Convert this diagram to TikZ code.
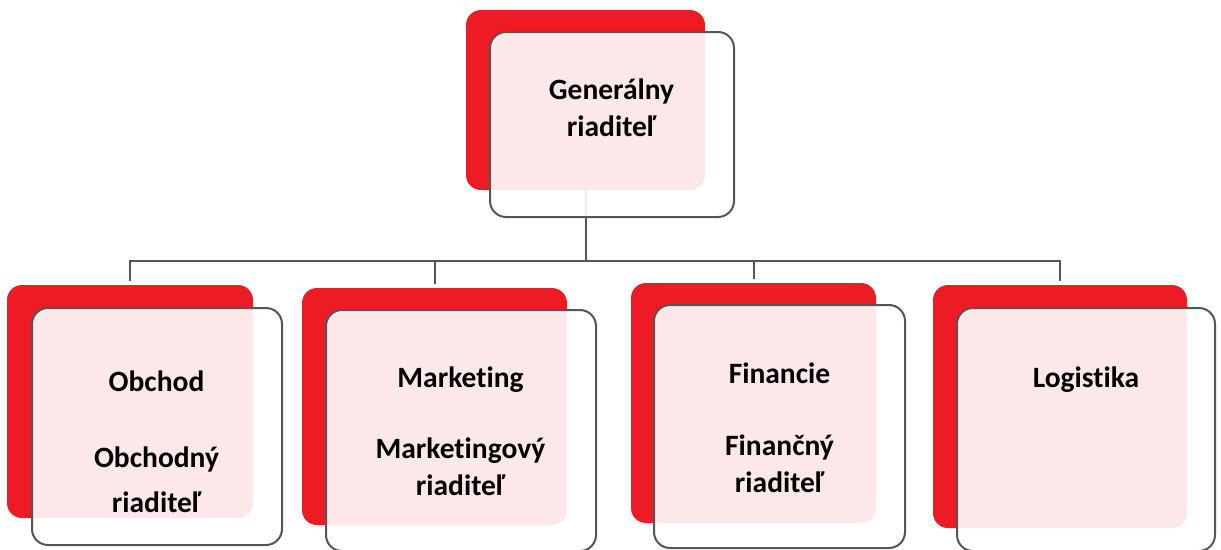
\documentclass[tikz,border=0pt]{standalone}
\usepackage{fontspec}
\setmainfont{Carlito}[Ligatures=NoCommon]
\definecolor{boxred}{HTML}{ED1C24}
\definecolor{linegray}{HTML}{555555}
\begin{document}
\begin{tikzpicture}[x=1pt,y=-1pt,
  redbox/.style={rectangle, rounded corners=15pt, fill=boxred, draw=none, inner sep=0pt, outer sep=0pt},
  outbox/.style={rectangle, rounded corners=16pt, draw=linegray, line width=2pt, fill=white, fill opacity=0.9, draw opacity=1, inner sep=0pt, outer sep=0pt},
  conn/.style={draw=linegray, line width=2pt, shorten >=4pt},
  lbl/.style={anchor=base, inner sep=0pt, font=\fontsize{29.5}{35}\selectfont\bfseries, text=black}]
\useasboundingbox (0,0) rectangle (1221,549);
% red back boxes
\node[redbox, minimum width=239pt, minimum height=180pt] (r0) at (585.5,100) {};
\node[redbox, minimum width=246pt, minimum height=233pt] (r1) at (130,401.5) {};
\node[redbox, minimum width=265pt, minimum height=237pt] (r2) at (434.5,406.5) {};
\node[redbox, minimum width=245pt, minimum height=240pt] (r3) at (753.5,403) {};
\node[redbox, minimum width=254pt, minimum height=243pt] (r4) at (1060,406.5) {};
% connectors
\coordinate (bus) at (585.5,261);
\draw[conn, shorten >=0pt] (r0.south) -- (bus);
\draw[conn] (bus) -| (r1.north);
\draw[conn] (bus) -| (r2.north);
\draw[conn] (bus) -| (r3.north);
\draw[conn] (bus) -| (r4.north);
% outlined translucent boxes
\node[outbox, minimum width=244pt, minimum height=185pt] (o0) at (612,124.5) {};
\node[outbox, minimum width=250pt, minimum height=237pt] (o1) at (157,426.5) {};
\node[outbox, minimum width=270pt, minimum height=241pt] (o2) at (461,430.5) {};
\node[outbox, minimum width=251pt, minimum height=243pt] (o3) at (779.5,426.5) {};
\node[outbox, minimum width=258pt, minimum height=243pt] (o4) at (1086,429.5) {};
% texts
\node[lbl] (t0a) at (611.5,99) {Generálny};
\node[lbl] (t0b) at (611.5,136) {riaditeľ};
\node[lbl] (t1a) at (156.5,391) {Obchod};
\node[lbl] (t1b) at (156.5,467) {Obchodný};
\node[lbl] (t1c) at (156.5,512) {riaditeľ};
\node[lbl] (t2a) at (460.5,387) {Marketing};
\node[lbl] (t2b) at (460.5,458) {Marketingový};
\node[lbl] (t2c) at (460.5,495) {riaditeľ};
\node[lbl] (t3a) at (779.5,383) {Financie};
\node[lbl] (t3b) at (779.5,455) {Finančný};
\node[lbl] (t3c) at (779.5,492) {riaditeľ};
\node[lbl] (t4a) at (1086,387) {Logistika};
\end{tikzpicture}
\end{document}
